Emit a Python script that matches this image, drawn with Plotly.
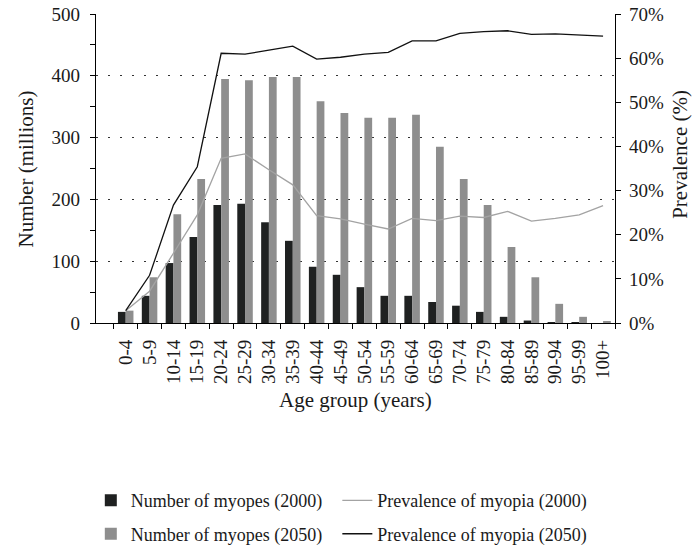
import plotly.graph_objects as go

age_groups = ["0-4", "5-9", "10-14", "15-19", "20-24", "25-29", "30-34", "35-39",
              "40-44", "45-49", "50-54", "55-59", "60-64", "65-69", "70-74", "75-79",
              "80-84", "85-89", "90-94", "95-99", "100+"]
myopes_2000 = [18, 44, 97, 139, 191, 193, 163, 133, 91, 78, 58, 44, 44, 34, 28, 18, 10, 4, 1, 0.3, 0]
myopes_2050 = [20, 74, 176, 233, 395, 393, 398, 398, 359, 340, 332, 332, 337, 285, 233, 191, 123, 74, 31, 10, 2]
prev_2000 = [2.8, 7.2, 15.8, 24.5, 37.3, 38.3, 34.7, 31.3, 24.3, 23.6, 22.4, 21.3, 23.7, 23.2,
             24.2, 23.9, 25.3, 23.1, 23.7, 24.5, 26.6]
prev_2050 = [2.8, 10.8, 26.7, 35.4, 61.1, 60.9, 61.8, 62.7, 59.8, 60.2, 60.9, 61.3, 63.9, 63.9,
             65.6, 66.0, 66.2, 65.4, 65.5, 65.3, 65.0]

font = "Liberation Serif"
txt = "#1a1a1a"
fig = go.Figure()
fig.add_trace(go.Bar(x=age_groups, y=myopes_2000, name="Number of myopes (2000)",
                     marker=dict(color="#1f2121", line=dict(width=0)), yaxis="y",
                     legend="legend", legendgroup="b1"))
fig.add_trace(go.Bar(x=age_groups, y=myopes_2050, name="Number of myopes (2050)",
                     marker=dict(color="#8e8e8e", line=dict(width=0)), yaxis="y",
                     legend="legend", legendgroup="b2"))
fig.add_trace(go.Scatter(x=age_groups, y=prev_2000, name="Prevalence of myopia (2000)",
                         mode="lines", line=dict(color="#a3a3a3", width=1.3), yaxis="y2",
                         legend="legend2", legendgroup="l1"))
fig.add_trace(go.Scatter(x=age_groups, y=prev_2050, name="Prevalence of myopia (2050)",
                         mode="lines", line=dict(color="#111111", width=1.3), yaxis="y2",
                         legend="legend2", legendgroup="l2"))
# invisible trace to activate the grid-only axis
fig.add_trace(go.Scatter(x=[age_groups[0]], y=[0], yaxis="y3", mode="markers",
                         marker=dict(opacity=0), showlegend=False, hoverinfo="skip"))

legend_common = dict(orientation="v", yanchor="top", xanchor="left", tracegroupgap=7,
                     traceorder="grouped", bgcolor="rgba(0,0,0,0)",
                     font=dict(family=font, size=18, color=txt))

fig.update_layout(
    width=696, height=546,
    margin=dict(l=96, r=81, t=14, b=223, autoexpand=False),
    paper_bgcolor="white", plot_bgcolor="white",
    font=dict(family=font, size=19, color=txt),
    barmode="group", bargap=0.35, bargroupgap=0,
    showlegend=True,
    legend=dict(x=-0.01, y=-0.515, **legend_common),
    legend2=dict(x=0.465, y=-0.515, **legend_common),
    xaxis=dict(showline=True, linecolor="black", linewidth=1.2, ticks="outside",
               ticklen=5, tickcolor="black", tickson="boundaries", tickangle=-90,
               ticklabelstandoff=8, showgrid=False, automargin=False,
               tickfont=dict(size=19)),
    yaxis=dict(range=[0, 500], dtick=100, showline=True, linecolor="black", linewidth=1.2,
               ticks="outside", ticklen=5, tickcolor="black", showgrid=False, zeroline=False,
               ticklabelstandoff=6, automargin=False, tickfont=dict(size=19),
               ticklabeloverflow="allow",
               minor=dict(dtick=50, ticks="outside", ticklen=5, tickcolor="black", showgrid=False)),
    yaxis2=dict(range=[0, 70], dtick=10, ticksuffix="%", overlaying="y", side="right",
                showline=True, linecolor="black", linewidth=1.2, ticks="outside", ticklen=5,
                tickcolor="black", showgrid=False, zeroline=False, ticklabelstandoff=4,
                automargin=False, tickfont=dict(size=19), ticklabeloverflow="allow"),
    yaxis3=dict(range=[0, 500], tickvals=[100, 200, 300, 400], overlaying="y",
                showticklabels=False, showgrid=True, gridcolor="#333", gridwidth=1,
                griddash="2px,10px", showline=False, zeroline=False, ticks="",
                automargin=False),
    annotations=[
        dict(text="Number (millions)", xref="paper", yref="paper", x=-0.135, y=0.5,
             xanchor="center", yanchor="middle", textangle=-90, showarrow=False,
             font=dict(size=21, family=font, color=txt)),
        dict(text="Prevalence (%)", xref="paper", yref="paper", x=1.125, y=0.547,
             xanchor="center", yanchor="middle", textangle=-90, showarrow=False,
             font=dict(size=21, family=font, color=txt)),
        dict(text="Age group (years)", xref="paper", yref="paper", x=0.5, y=-0.249,
             xanchor="center", yanchor="middle", showarrow=False,
             font=dict(size=21, family=font, color=txt)),
    ],
)

# remove the browser's default 8px page margin so the figure fills the window exactly
fig.write_html("out.html", config={"displayModeBar": False},
               post_script="document.body.style.margin='0';")
